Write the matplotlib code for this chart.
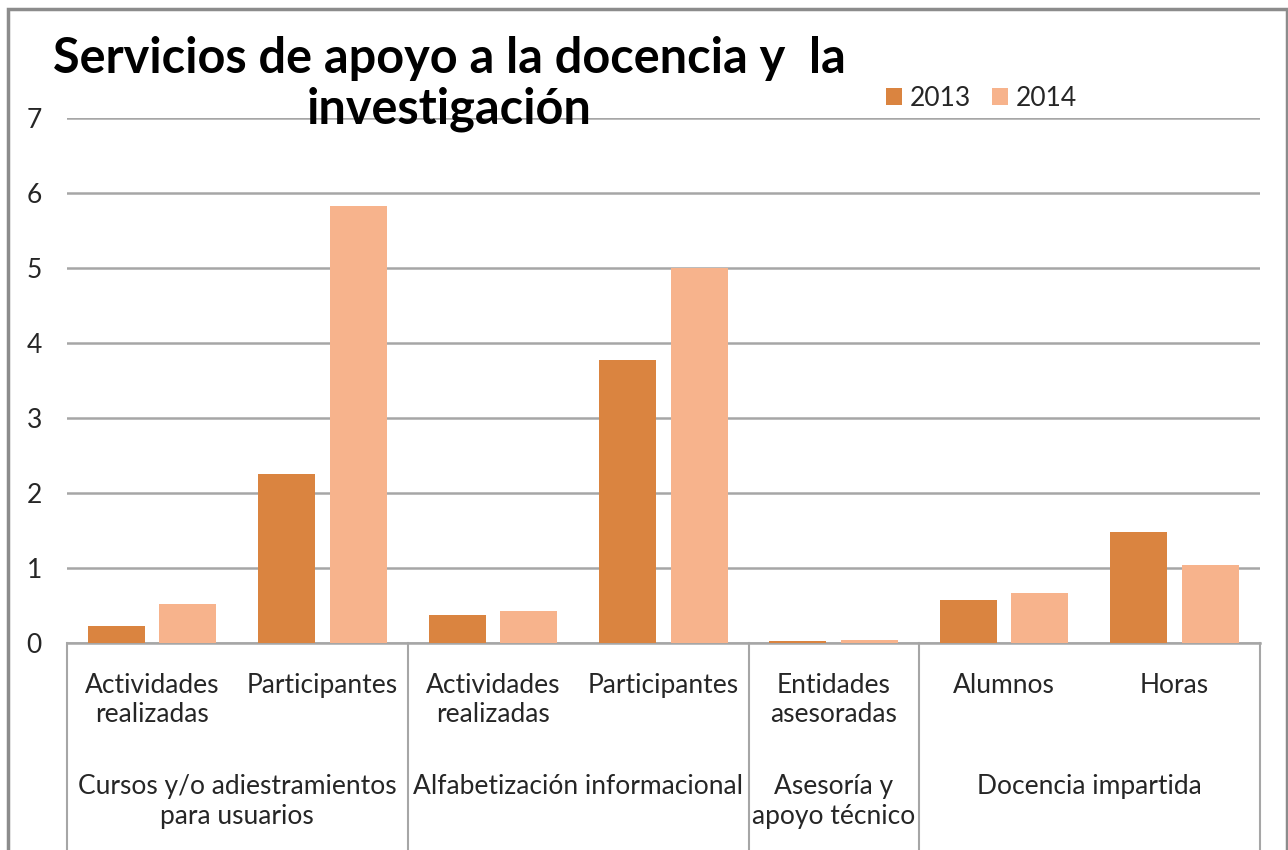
import numpy as np
import matplotlib
matplotlib.use("Agg")
import matplotlib.pyplot as plt
from matplotlib.patches import Rectangle

plt.rcParams['font.family'] = ['Lato', 'DejaVu Sans']

# ======= DATA ===========
subcats = ["Actividades\nrealizadas", "Participantes", "Actividades\nrealizadas",
           "Participantes", "Entidades\nasesoradas", "Alumnos", "Horas"]
groups = ["Cursos y/o adiestramientos\npara usuarios", "Alfabetización informacional",
          "Asesoría y\napoyo técnico", "Docencia impartida"]
group_sizes = [2, 2, 1, 2]
vals_2013 = [0.23, 2.25, 0.37, 3.77, 0.03, 0.57, 1.48]
vals_2014 = [0.52, 5.83, 0.43, 5.00, 0.04, 0.67, 1.04]

c2013 = "#DA8440"
c2014 = "#F7B38C"
grid_c = "#A6A6A6"
txt_c = "#262626"
fs = 19

# ======= FIGURE ===========
fig = plt.figure(figsize=(12.88, 8.5), dpi=100)
fig.patches.append(Rectangle((0.006, -0.01), 0.993, 0.999, transform=fig.transFigure,
                             fill=False, edgecolor="#8C8C8C", linewidth=2.5))
ax = fig.add_axes([0.052, 0.2435, 0.926, 0.6177])

x = np.arange(len(subcats))
w = 0.335
ax.bar(x - 0.21, vals_2013, w, color=c2013, label="2013", zorder=3)
ax.bar(x + 0.21, vals_2014, w, color=c2014, label="2014", zorder=3)

ax.set_xlim(-0.5, len(subcats) - 0.5)
ax.set_ylim(0, 7)
ax.set_yticks(range(0, 8))
ax.yaxis.grid(True, color=grid_c, linewidth=1.8, zorder=0)
ax.tick_params(axis='y', length=0, pad=18, labelsize=fs, labelcolor=txt_c)
ax.set_xticks([])
for s in ["top", "right", "left"]:
    ax.spines[s].set_visible(False)
ax.spines["bottom"].set_color(grid_c)
ax.spines["bottom"].set_linewidth(1.8)

# two-level category axis
trans = ax.get_xaxis_transform()
for xi, lab in zip(x, subcats):
    ax.text(xi, -0.057, lab, transform=trans, ha="center", va="top",
            fontsize=fs, color=txt_c, linespacing=1.22)

edges = np.concatenate([[0], np.cumsum(group_sizes)]) - 0.5
for e in edges:
    ax.plot([e, e], [0, -0.41], transform=trans, color=grid_c, linewidth=1.5, clip_on=False)
for i, g in enumerate(groups):
    mid = (edges[i] + edges[i + 1]) / 2
    ax.text(mid, -0.25, g, transform=trans, ha="center", va="top",
            fontsize=fs, color=txt_c, linespacing=1.22)

# title
fig.text(0.349, 0.958, "Servicios de apoyo a la docencia y  la\ninvestigación",
         ha="center", va="top", fontsize=35, fontweight="bold", color="black",
         linespacing=1.15)

ax.legend(loc="center left", bbox_to_anchor=(0.667, 1.037), ncol=2, frameon=False,
          fontsize=fs, handlelength=0.6, handleheight=0.6, handletextpad=0.3,
          columnspacing=0.8, labelcolor=txt_c)

fig.savefig("out.png", dpi=100)
